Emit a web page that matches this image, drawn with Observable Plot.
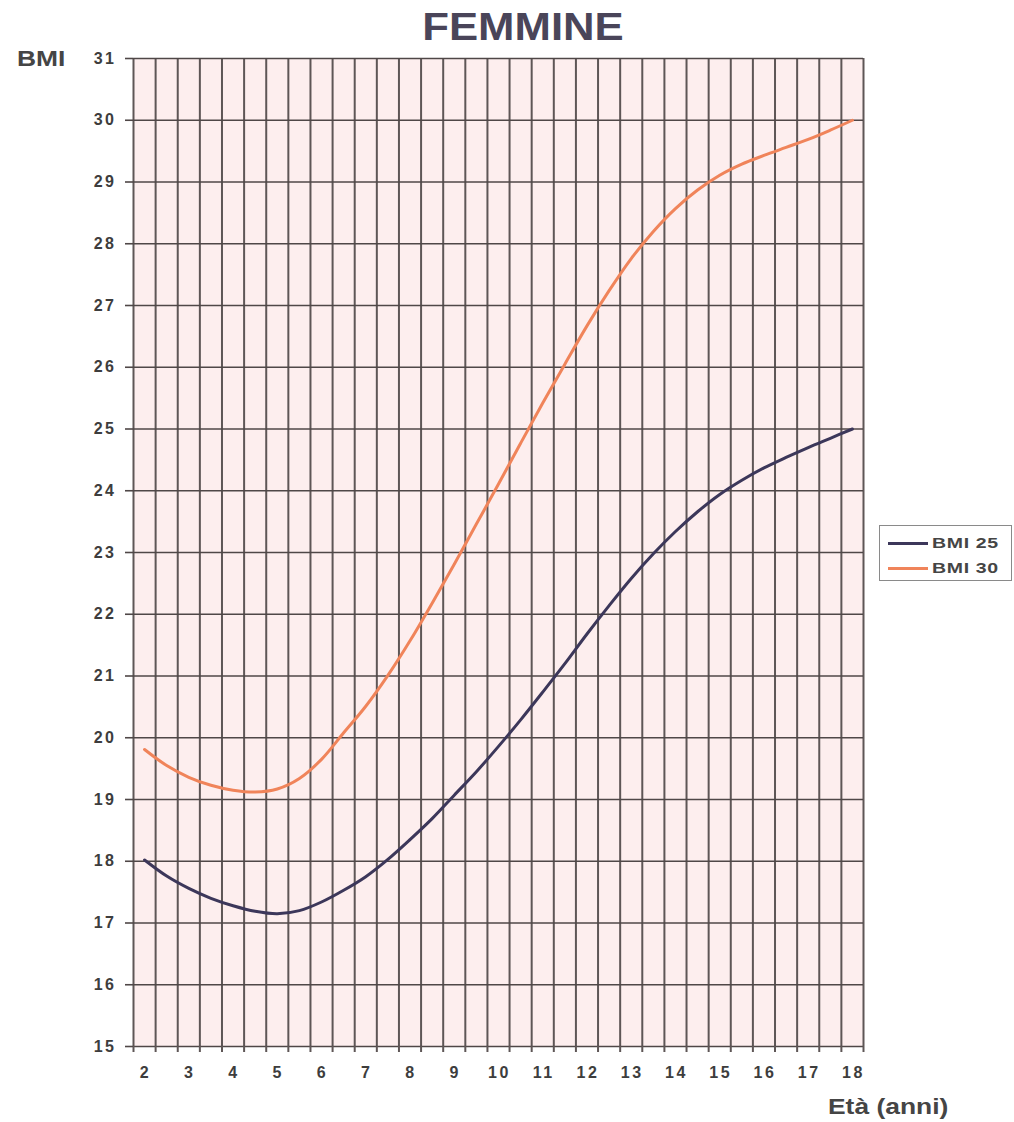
<!DOCTYPE html>
<html>
<head>
<meta charset="utf-8">
<script src="https://cdn.jsdelivr.net/npm/d3@7"></script>
<script src="https://cdn.jsdelivr.net/npm/@observablehq/plot@0.6"></script>
<style>
  html, body { margin: 0; padding: 0; background: #ffffff; }
  #wrap { position: relative; width: 1014px; height: 1122px; overflow: hidden; font-family: "Liberation Sans", Arial, sans-serif; font-weight: bold; }
  .lbl { position: absolute; line-height: 1; white-space: nowrap; }
  #title { left: 523px; top: 8px; font-size: 38px; color: #4a4559; transform: translateX(-50%) scaleX(1.15); }
  #ylab { left: 17px; top: 48px; font-size: 22px; color: #454545; transform-origin: left center; transform: scaleX(1.2); }
  #xlab { left: 828px; top: 1096px; font-size: 22px; color: #454545; transform-origin: left center; transform: scaleX(1.2); }
  #legend { position: absolute; left: 879px; top: 525px; width: 133px; height: 56px; border: 1px solid #8a8a8a; box-sizing: border-box; background: #ffffff; }
  .lgline { position: absolute; left: 8px; width: 40px; height: 3px; }
  .lgtext { position: absolute; left: 52px; font-size: 15px; line-height: 1; color: #454545; letter-spacing: 0.5px; transform-origin: left center; transform: scaleX(1.3); white-space: nowrap; }
  #chart svg text { font-size: 16px !important; font-weight: bold; letter-spacing: 2.5px; fill: #3d3d3d; }
</style>
</head>
<body>
<div id="wrap">
  <div id="chart"></div>
  <div class="lbl" id="title">FEMMINE</div>
  <div class="lbl" id="ylab">BMI</div>
  <div class="lbl" id="xlab">Età (anni)</div>
  <div id="legend"></div>
</div>
<script>
// Ages (half-year categories) and BMI cut-off values
const ages = [2, 2.5, 3, 3.5, 4, 4.5, 5, 5.5, 6, 6.5, 7, 7.5, 8, 8.5, 9, 9.5, 10, 10.5, 11, 11.5, 12, 12.5, 13, 13.5, 14, 14.5, 15, 15.5, 16, 16.5, 17, 17.5, 18];
const bmi25 = [18.02, 17.76, 17.56, 17.40, 17.28, 17.19, 17.15, 17.20, 17.34, 17.53, 17.75, 18.03, 18.35, 18.69, 19.07, 19.45, 19.86, 20.29, 20.74, 21.20, 21.68, 22.14, 22.58, 22.98, 23.34, 23.66, 23.94, 24.17, 24.37, 24.54, 24.70, 24.85, 25.00];
const bmi30 = [19.81, 19.55, 19.36, 19.23, 19.15, 19.12, 19.17, 19.34, 19.65, 20.08, 20.51, 21.01, 21.57, 22.18, 22.81, 23.46, 24.11, 24.77, 25.42, 26.05, 26.67, 27.24, 27.76, 28.20, 28.57, 28.87, 29.11, 29.29, 29.43, 29.56, 29.69, 29.84, 30.00];
const seriesNames = ["BMI 25", "BMI 30"];
const seriesColors = ["#3c375a", "#f0845a"];
const xTickLabels = [2, 3, 4, 5, 6, 7, 8, 9, 10, 11, 12, 13, 14, 15, 16, 17, 18];
const yTickLabels = [15, 16, 17, 18, 19, 20, 21, 22, 23, 24, 25, 26, 27, 28, 29, 30, 31];

// category boundaries (grid lines between half-year categories)
const half = 0.25;
const boundaries = ages.map(a => a - half).concat([ages[ages.length - 1] + half]);

const rows = [];
ages.forEach((a, i) => {
  rows.push({age: a, bmi: bmi25[i], serie: seriesNames[0]});
  rows.push({age: a, bmi: bmi30[i], serie: seriesNames[1]});
});

const gridColor = "#4f4747";
const intFmt = d => String(d);

const chart = Plot.plot({
  width: 1014,
  height: 1122,
  marginTop: 58,
  marginLeft: 133,
  marginRight: 151,
  marginBottom: 76,
  x: {domain: [boundaries[0], boundaries[boundaries.length - 1]]},
  y: {domain: [yTickLabels[0], yTickLabels[yTickLabels.length - 1]]},
  color: {domain: seriesNames, range: seriesColors},
  style: {background: "transparent", fontFamily: "'Liberation Sans', Arial, sans-serif", fontWeight: "bold", fontSize: "16px", color: "#3d3d3d", overflow: "visible"},
  marks: [
    Plot.frame({fill: "#fdeeee", stroke: "none"}),
    Plot.gridX(boundaries, {stroke: "#5e5656", strokeOpacity: 1, strokeWidth: 2}),
    Plot.gridY(yTickLabels, {stroke: gridColor, strokeOpacity: 1, strokeWidth: 1.6}),
    Plot.axisX(boundaries, {tickSize: 6, tickFormat: () => "", stroke: "#5e5656", strokeWidth: 2, label: null}),
    Plot.axisX(xTickLabels, {tickSize: 0, tickPadding: 20, dx: 1, tickFormat: intFmt, label: null, fontSize: 16, fontWeight: "bold", fill: "#3d3d3d"}),
    Plot.axisY(yTickLabels, {tickSize: 8, tickPadding: 9, tickFormat: intFmt, label: null, stroke: gridColor, strokeWidth: 1.6, fontSize: 16, fontWeight: "bold", fill: "#3d3d3d"}),
    Plot.lineY(rows, {x: "age", y: "bmi", z: "serie", stroke: "serie", strokeWidth: 3, curve: "catmull-rom"})
  ]
});
document.getElementById("chart").appendChild(chart);

// legend
const legend = document.getElementById("legend");
seriesNames.forEach((name, i) => {
  const line = document.createElement("div");
  line.className = "lgline";
  line.style.top = (16 + i * 25) + "px";
  line.style.background = seriesColors[i];
  legend.appendChild(line);
  const t = document.createElement("div");
  t.className = "lgtext";
  t.style.top = (9 + i * 25) + "px";
  t.textContent = name;
  legend.appendChild(t);
});
</script>
</body>
</html>
